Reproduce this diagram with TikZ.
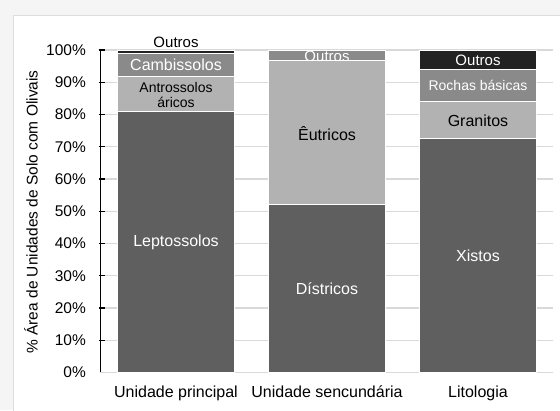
\documentclass[tikz,border=0pt]{standalone}
\usepackage{fontspec}
\setmainfont{Liberation Sans}
\definecolor{dkbar}{HTML}{5F5F5F}
\definecolor{ltbar}{HTML}{B2B2B2}
\definecolor{mdbar}{HTML}{8A8A8A}
\definecolor{bkbar}{HTML}{222222}
\definecolor{gridc}{HTML}{D9D9D9}
\definecolor{outbg}{HTML}{F5F5F5}
\definecolor{framec}{HTML}{DDDDDD}
\begin{document}
\begin{tikzpicture}[x=1pt,y=1pt,
  lbl/.style={font=\fontsize{16}{18}\selectfont, inner sep=0pt},
  axl/.style={font=\fontsize{15.5}{17}\selectfont, inner sep=0pt},
  sml/.style={font=\fontsize{14}{15.4}\selectfont, inner sep=0pt, align=center},
  outl/.style={font=\fontsize{15}{16}\selectfont, inner sep=0pt},
  gridline/.style={gridc, line width=1.3pt},
  axisline/.style={black, line width=1.4pt},
  segment/.style={draw=white, line width=0.4pt}]
\useasboundingbox (0,0) rectangle (560,410);
\fill[outbg] (0,0) rectangle (560,410);
\filldraw[fill=white, draw=framec, line width=0.8pt] (13,-5) rectangle (566,395);
\begin{scope}[shift={(0,37.5)}, y=3.225pt]
  % gridlines
  \foreach \p in {0,10,...,100} {
    \draw[gridline] (100,\p) -- (553,\p);
  }
  % bar 1: Unidade principal
  \filldraw[segment, fill=dkbar] (117.5,0) rectangle (234.5,80.9);
  \filldraw[segment, fill=ltbar] (117.5,80.9) rectangle (234.5,92.0);
  \filldraw[segment, fill=mdbar] (117.5,92.0) rectangle (234.5,99.0);
  \filldraw[segment, fill=bkbar] (117.5,99.0) rectangle (234.5,100);
  % bar 2: Unidade secundaria
  \filldraw[segment, fill=dkbar] (268.5,0) rectangle (385.5,52.2);
  \filldraw[segment, fill=ltbar] (268.5,52.2) rectangle (385.5,96.7);
  \filldraw[segment, fill=mdbar] (268.5,96.7) rectangle (385.5,100);
  % bar 3: Litologia
  \filldraw[segment, fill=dkbar] (419.5,0) rectangle (536.5,72.5);
  \filldraw[segment, fill=ltbar] (419.5,72.5) rectangle (536.5,84.0);
  \filldraw[segment, fill=mdbar] (419.5,84.0) rectangle (536.5,94.1);
  \filldraw[segment, fill=bkbar] (419.5,94.1) rectangle (536.5,100);
  % axis and ticks
  \draw[axisline] (100.5,0) -- (100.5,100);
  \foreach \p in {10,20,...,100} {
    \draw[axisline, line width=1.2pt] (98.5,\p) -- (105,\p);
  }
  \foreach \p in {0,10,...,100} {
    \node[axl, anchor=east] (yl\p) at (86,\p) {\p\%};
  }
  % bar labels
  \node[lbl, white] (lepto) at (176,40.2) {Leptossolos};
  \node[sml] (antro) at (176,86.0) {Antrossolos\\áricos};
  \node[lbl, white] (cambi) at (176,95.3) {Cambissolos};
  \node[outl] (outros1) at (176,102.3) {Outros};
  \node[lbl, white] (distr) at (327,26.1) {Dístricos};
  \node[lbl] (eutr) at (327,74.2) {Êutricos};
  \node[outl, white] (outros2) at (327,97.9) {Outros};
  \node[lbl, white] (xist) at (478,36.1) {Xistos};
  \node[lbl] (gran) at (478,78.1) {Granitos};
  \node[sml, white] (rochas) at (478,88.9) {Rochas básicas};
  \node[outl, white] (outros3) at (478,96.7) {Outros};
\end{scope}
% category labels
\node[lbl, anchor=base] (cat1) at (176,12.7) {Unidade principal};
\node[lbl, anchor=base] (cat2) at (327,12.7) {Unidade sencundária};
\node[lbl, anchor=base] (cat3) at (478,12.7) {Litologia};
% y axis title
\node[axl, rotate=90] (ytitle) at (31,198) {\% Área de Unidades de Solo com Olivais};
\end{tikzpicture}
\end{document}
